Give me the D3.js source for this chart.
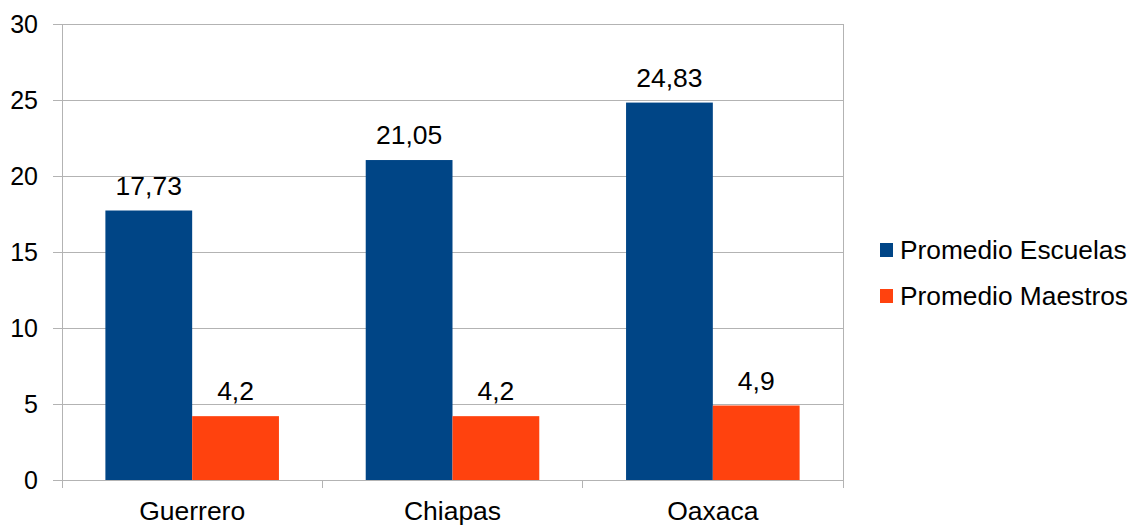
<!DOCTYPE html>
<html><head><meta charset="utf-8">
<script src="https://cdn.jsdelivr.net/npm/d3@7/dist/d3.min.js"></script>
<style>body{margin:0;background:#fff}text{font-family:"Liberation Sans",Arial,sans-serif;fill:#000}</style>
</head><body>
<svg id="c" width="1131" height="525"></svg>
<script>
const categories = ["Guerrero", "Chiapas", "Oaxaca"];
const seriesNames = ["Promedio Escuelas", "Promedio Maestros"];
const escuelas = [17.73, 21.05, 24.83];
const maestros = [4.2, 4.2, 4.9];
const yTicks = [0, 5, 10, 15, 20, 25, 30];
const colors = ["#004586", "#ff420e"];

const svg = d3.select("#c");
const L = 62, R = 843, T = 24, B = 480;
const x = d3.scaleBand().domain(categories).range([L, R]).paddingInner(0).paddingOuter(0);
const x1 = d3.scaleBand().domain(seriesNames).range([0, x.bandwidth()]).paddingInner(0).paddingOuter(0.5);
const y = d3.scaleLinear().domain([0, 30]).range([B, T]);
const fmt = v => String(v).replace(".", ",");

// gridlines
svg.append("g").selectAll("line").data(yTicks).join("line")
  .attr("x1", L - 9).attr("x2", R).attr("y1", d => y(d)).attr("y2", d => y(d))
  .attr("stroke", "#b3b3b3").attr("stroke-width", 1).attr("shape-rendering", "crispEdges");
// left axis line
svg.append("line").attr("x1", L).attr("x2", L).attr("y1", T).attr("y2", B + 8)
  .attr("stroke", "#b3b3b3").attr("shape-rendering", "crispEdges");
// right border
svg.append("line").attr("x1", R).attr("x2", R).attr("y1", T).attr("y2", B)
  .attr("stroke", "#b3b3b3").attr("shape-rendering", "crispEdges");
// category ticks
const bounds = categories.map(c => x(c) + x.bandwidth());
svg.append("g").selectAll("line").data(bounds).join("line")
  .attr("x1", d => d).attr("x2", d => d).attr("y1", B).attr("y2", B + 8)
  .attr("stroke", "#b3b3b3").attr("shape-rendering", "crispEdges");

// y labels
svg.append("g").selectAll("text").data(yTicks).join("text")
  .attr("x", 38).attr("y", d => y(d)).attr("dy", "0.35em")
  .attr("text-anchor", "end").attr("font-size", 25).text(d => d);

// x labels
svg.append("g").selectAll("text").data(categories).join("text")
  .attr("x", d => x(d) + x.bandwidth() / 2).attr("y", 520)
  .attr("text-anchor", "middle").attr("font-size", 26.5).text(d => d);

// bars
const series = [escuelas, maestros];
series.forEach((vals, si) => {
  const g = svg.append("g");
  g.selectAll("rect").data(categories).join("rect")
    .attr("x", (c) => x(c) + x1(seriesNames[si]))
    .attr("width", x1.bandwidth())
    .attr("y", (c, i) => y(vals[i]))
    .attr("height", (c, i) => B - y(vals[i]))
    .attr("fill", colors[si]);
  g.selectAll("text").data(categories).join("text")
    .attr("x", (c) => x(c) + x1(seriesNames[si]) + x1.bandwidth() / 2)
    .attr("y", (c, i) => y(vals[i]) - 16)
    .attr("text-anchor", "middle").attr("font-size", 26.5)
    .text((c, i) => fmt(vals[i]));
});

// legend
const lg = svg.append("g");
seriesNames.forEach((n, i) => {
  lg.append("rect").attr("x", 880).attr("y", 243 + i * 46).attr("width", 13).attr("height", 14).attr("fill", colors[i]);
  lg.append("text").attr("x", 900).attr("y", 250 + i * 46).attr("dy", "0.35em").attr("font-size", 26.3).text(n);
});
</script>
</body></html>
